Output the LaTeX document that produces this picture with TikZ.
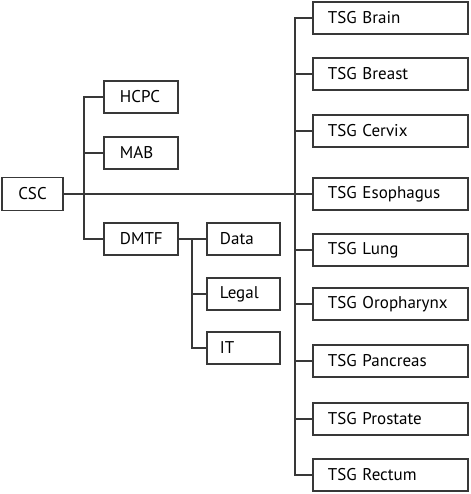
\documentclass[tikz,border=0pt]{standalone}
\usepackage{fontspec}
\setmainfont{PT Sans}
\begin{document}
\begin{tikzpicture}[x=1pt,y=-1pt,
  line/.style={draw=black!78,line width=1.9pt},
  base/.style={draw=black!78,line width=1.9pt,rectangle,minimum height=32pt,inner ysep=0pt,anchor=west,font=\fontsize{17}{20}\selectfont,align=left},
  leftbox/.style={base,inner xsep=16pt,text width=42pt},
  subbox/.style={base,inner xsep=13pt,text width=47pt},
  tsgbox/.style={base,inner xsep=15pt,text width=125pt}]
\useasboundingbox (0,0) rectangle (470,494);
\node[draw=black!78,line width=1.9pt,minimum width=61pt,minimum height=33pt,inner sep=0pt,font=\fontsize{17}{20}\selectfont] (csc) at (32.5,194) {CSC};
\node[leftbox] (hcpc) at (103,97) {HCPC};
\node[leftbox] (mab) at (103,153) {MAB};
\node[leftbox] (dmtf) at (103,239) {DMTF};
\node[subbox] (data) at (206,239) {Data};
\node[subbox] (legal) at (206,294) {Legal};
\node[subbox] (it) at (206,348) {IT};
\node[tsgbox] (brain) at (312,18) {TSG Brain};
\node[tsgbox] (breast) at (312,74) {TSG Breast};
\node[tsgbox] (cervix) at (312,131) {TSG Cervix};
\node[tsgbox] (eso) at (312,194) {TSG Esophagus};
\node[tsgbox] (lung) at (312,250) {TSG Lung};
\node[tsgbox] (oro) at (312,304) {TSG Oropharynx};
\node[tsgbox] (panc) at (312,361) {TSG Pancreas};
\node[tsgbox] (prost) at (312,419) {TSG Prostate};
\node[tsgbox] (rect) at (312,475) {TSG Rectum};
\coordinate (ta) at (84,0);
\coordinate (tb) at (192,0);
\coordinate (tc) at (295,0);
\draw[line] (csc.east) -- (csc.east -| eso.west);
\draw[line] (hcpc.west) -- (hcpc.west -| ta) -- (dmtf.west -| ta) -- (dmtf.west);
\draw[line] (mab.west) -- (mab.west -| ta);
\draw[line] (dmtf.east) -- (data.west);
\draw[line] (data.west -| tb) -- (it.west -| tb) -- (it.west);
\draw[line] (legal.west) -- (legal.west -| tb);
\draw[line] (brain.west) -- (brain.west -| tc) -- (rect.west -| tc) -- (rect.west);
\foreach \n in {breast,cervix,lung,oro,panc,prost} \draw[line] (\n.west) -- (\n.west -| tc);
\end{tikzpicture}
\end{document}
